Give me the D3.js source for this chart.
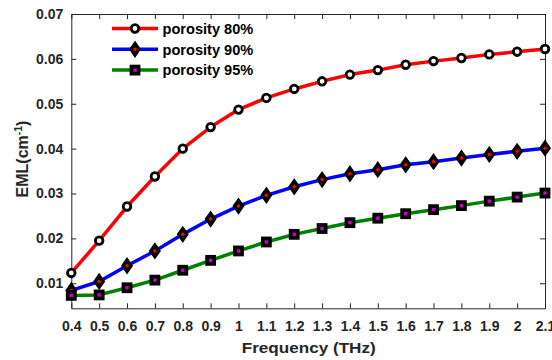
<!DOCTYPE html>
<html>
<head>
<meta charset="utf-8">
<script src="https://cdn.jsdelivr.net/npm/d3@7"></script>
<style>
  html, body { margin: 0; padding: 0; background: #fff; }
  svg { display: block; font-family: "Liberation Sans", Arial, sans-serif; }
</style>
</head>
<body>
<svg id="chart" width="552" height="360"></svg>
<script>
// Frequency samples (THz)
const frequency = [0.4, 0.5, 0.6, 0.7, 0.8, 0.9, 1.0, 1.1, 1.2, 1.3, 1.4, 1.5, 1.6, 1.7, 1.8, 1.9, 2.0, 2.1];
// EML (cm^-1) for each porosity
const eml80 = [0.0123, 0.0195, 0.0271, 0.0338, 0.0400, 0.0448, 0.0487, 0.0513, 0.0533, 0.0550, 0.0565, 0.0575, 0.0587, 0.0595, 0.0602, 0.0610, 0.0616, 0.0622];
const eml90 = [0.0084, 0.0104, 0.0139, 0.0172, 0.0209, 0.0243, 0.0272, 0.0296, 0.0315, 0.0331, 0.0344, 0.0353, 0.0364, 0.0371, 0.0379, 0.0387, 0.0394, 0.0401];
const eml95 = [0.0073, 0.0074, 0.0090, 0.0107, 0.0129, 0.0151, 0.0172, 0.0192, 0.0209, 0.0222, 0.0235, 0.0245, 0.0255, 0.0264, 0.0273, 0.0283, 0.0292, 0.0301];
const seriesNames = ["porosity 80%", "porosity 90%", "porosity 95%"];
const xTicks = [0.4, 0.5, 0.6, 0.7, 0.8, 0.9, 1, 1.1, 1.2, 1.3, 1.4, 1.5, 1.6, 1.7, 1.8, 1.9, 2, 2.1];
const yTicks = [0.01, 0.02, 0.03, 0.04, 0.05, 0.06, 0.07];

const svg = d3.select("#chart");
const m = { left: 71.3, right: 545, top: 14, bottom: 308.3 };
const axisColor = "#262626";

const x = d3.scaleLinear().domain([0.4, 2.1]).range([m.left, m.right]);
const y = d3.scaleLinear().domain([0.00442, 0.07]).range([m.bottom, m.top]);

const series = [
  { name: seriesNames[0], values: eml80, line: "#ff0000", marker: "circle" },
  { name: seriesNames[1], values: eml90, line: "#0000ff", marker: "diamond" },
  { name: seriesNames[2], values: eml95, line: "#008000", marker: "square" }
];

// Axes box with inward ticks on all four sides
const g = svg.append("g");
const fmtX = d => String(+d.toFixed(1));
const fmtY = d => d.toFixed(2);

g.append("g").attr("transform", `translate(0,${m.bottom})`)
  .call(d3.axisBottom(x).tickValues(xTicks).tickSizeInner(-5).tickSizeOuter(0).tickPadding(13).tickFormat(fmtX));
g.append("g").attr("transform", `translate(0,${m.top})`)
  .call(d3.axisTop(x).tickValues(xTicks).tickSizeInner(-5).tickSizeOuter(0).tickFormat(""));
g.append("g").attr("transform", `translate(${m.left},0)`)
  .call(d3.axisLeft(y).tickValues(yTicks).tickSizeInner(-5).tickSizeOuter(0).tickPadding(8).tickFormat(fmtY));
g.append("g").attr("transform", `translate(${m.right},0)`)
  .call(d3.axisRight(y).tickValues(yTicks).tickSizeInner(-5).tickSizeOuter(0).tickFormat(""));

g.selectAll(".domain").attr("stroke", axisColor).attr("stroke-width", 1);
g.selectAll(".tick line").attr("stroke", axisColor).attr("stroke-width", 1);
g.selectAll(".tick text")
  .attr("fill", axisColor)
  .attr("font-size", 14)
  .attr("font-weight", "bold")
  .attr("font-family", "Liberation Sans, Arial, sans-serif");

// Axis titles
svg.append("text")
  .attr("x", 308.7).attr("y", 352.7)
  .attr("text-anchor", "middle")
  .attr("font-size", 15.5).attr("font-weight", "bold").attr("fill", axisColor)
  .attr("textLength", 134).attr("lengthAdjust", "spacingAndGlyphs")
  .text("Frequency (THz)");

const yTitle = svg.append("text")
  .attr("transform", `translate(28,${159}) rotate(-90)`)
  .attr("text-anchor", "middle")
  .attr("font-size", 16).attr("font-weight", "bold").attr("fill", axisColor);
yTitle.append("tspan").text("EML(cm");
yTitle.append("tspan").attr("dy", -6.5).attr("font-size", 10.5).text("-1");
yTitle.append("tspan").attr("dy", 6.5).text(")");

// Marker drawing
function drawMarker(sel, kind) {
  if (kind === "circle") {
    sel.append("circle").attr("r", 3.8).attr("fill", "#fff").attr("stroke", "#000").attr("stroke-width", 2.8);
  } else if (kind === "diamond") {
    sel.append("path").attr("d", "M0,-7.6L5.3,0L0,7.6L-5.3,0Z").attr("fill", "#000").attr("stroke", "#000").attr("stroke-width", 1.2);
    sel.append("circle").attr("r", 1.8).attr("fill", "#ff0000");
  } else {
    sel.append("rect").attr("x", -5.4).attr("y", -5.4).attr("width", 10.8).attr("height", 10.8).attr("fill", "#000");
    sel.append("rect").attr("x", -1.7).attr("y", -1.7).attr("width", 3.4).attr("height", 3.4).attr("fill", "#cc00cc");
  }
}

const line = d3.line().x((d, i) => x(frequency[i])).y(d => y(d));

const plot = svg.append("g");
series.forEach(s => {
  plot.append("path").datum(s.values)
    .attr("d", line).attr("fill", "none")
    .attr("stroke", s.line).attr("stroke-width", 3.5)
    .attr("stroke-linejoin", "round");
});
series.forEach(s => {
  plot.selectAll(null).data(s.values).enter().append("g")
    .attr("transform", (d, i) => `translate(${x(frequency[i])},${y(d)})`)
    .each(function () { drawMarker(d3.select(this), s.marker); });
});

// Legend
const legend = svg.append("g");
series.forEach((s, i) => {
  const ly = 28.5 + i * 20.8;
  legend.append("line").attr("x1", 112).attr("x2", 158).attr("y1", ly).attr("y2", ly)
    .attr("stroke", s.line).attr("stroke-width", 3.5);
  const mk = legend.append("g").attr("transform", `translate(135,${ly})`);
  drawMarker(mk, s.marker);
  legend.append("text").attr("x", 162.5).attr("y", ly + 5.3)
    .attr("font-size", 14.6).attr("font-weight", "bold").attr("fill", "#000")
    .text(s.name);
});
</script>
</body>
</html>
